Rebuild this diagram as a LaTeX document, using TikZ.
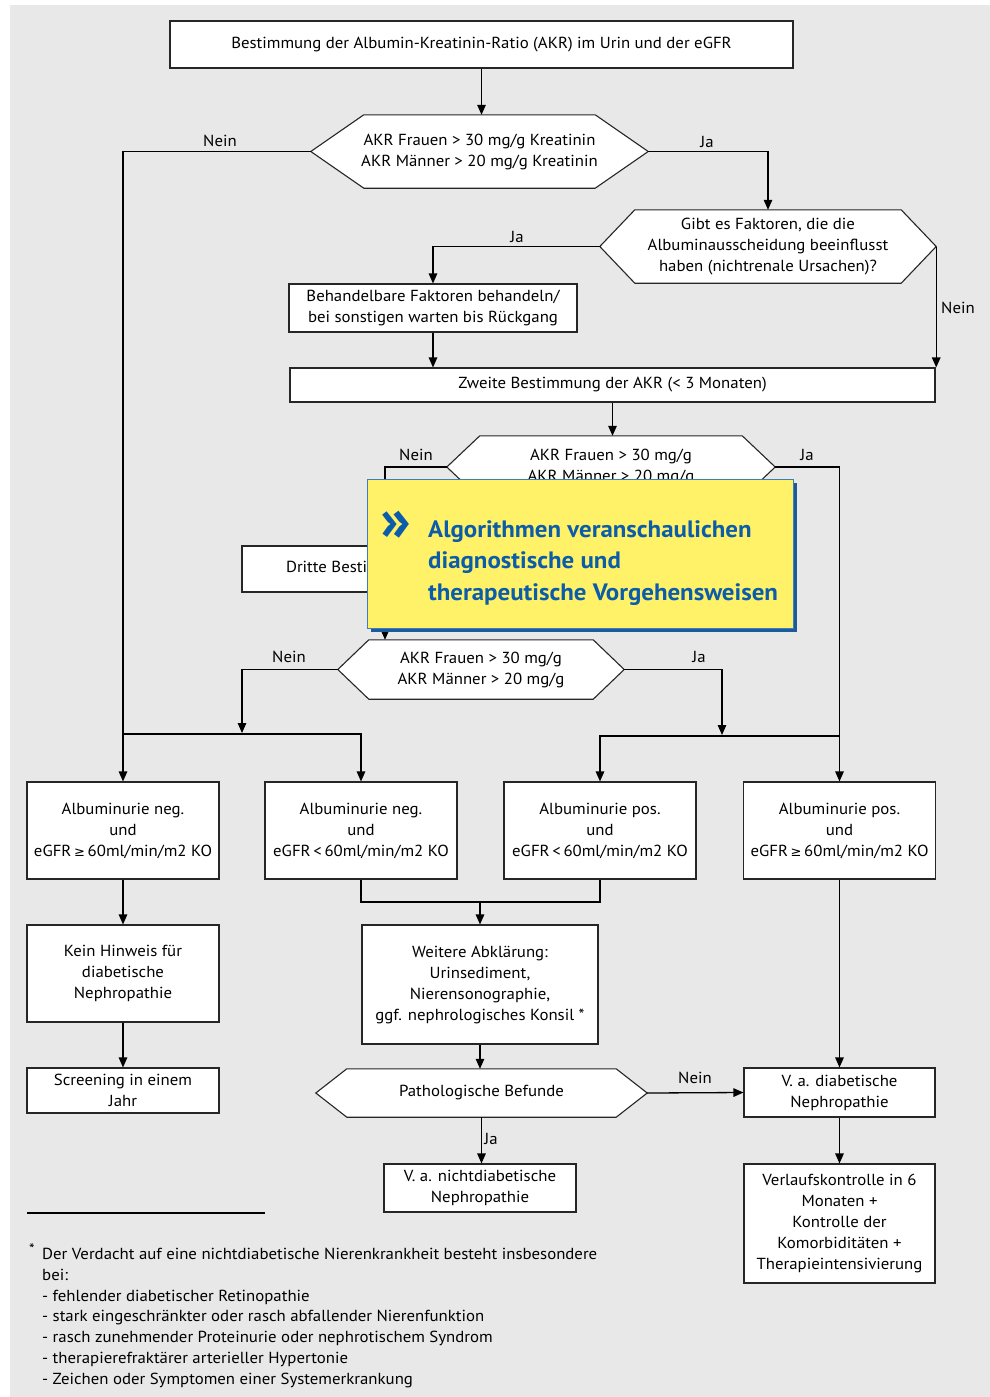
\documentclass[tikz,border=0pt]{standalone}
\usepackage{fontspec}
\setmainfont[FakeStretch=1.05]{PT Sans}
\newfontfamily\symfont{DejaVu Sans}
\usetikzlibrary{arrows.meta}
\pgfdeclarelayer{back}
\pgfdeclarelayer{hexlayer}
\pgfsetlayers{back,hexlayer,main}
\definecolor{bggray}{HTML}{E8E8E8}
\definecolor{ylw}{HTML}{FFF168}
\definecolor{blu}{HTML}{0B5CA9}
\definecolor{shadowblu}{HTML}{1C5A9C}
\definecolor{bordblu}{HTML}{3C7FC0}
\newcommand{\fs}{\fontsize{16}{21}\selectfont}
\newcommand{\gesym}{{\symfont\fontsize{13}{13}\selectfont ≥}}
\newcommand{\hexdraw}[2]{\begin{pgfonlayer}{hexlayer}\draw[hexfill] (#1.west) -- ([xshift=#2]#1.north west) -- ([xshift=-#2]#1.north east) -- (#1.east) -- ([xshift=-#2]#1.south east) -- ([xshift=#2]#1.south west) -- cycle;\end{pgfonlayer}}
\tikzset{
 bx/.style={draw=black!85,fill=white,line width=1.1pt,inner sep=0pt,align=center,font=\fs},
 hx/.style={inner sep=0pt,align=center,font=\fs},
 hexfill/.style={draw=black!85,fill=white,line width=1.1pt,line join=miter},
 conn/.style={line width=1.3pt},
 arr/.style={conn,-{Triangle[length=10pt,width=8.5pt]}},
 lbl/.style={font=\fs,inner sep=0pt},
 fn/.style={font=\fs,inner sep=0pt,anchor=base west},
 yt/.style={font=\bfseries\fontsize{23.7}{31.5}\selectfont,text=blu,inner sep=0pt,anchor=base west},
}
\begin{document}
\begin{tikzpicture}[x=1pt,y=-1pt]
\useasboundingbox (0,0) rectangle (990,1397);
\begin{pgfonlayer}{back}
\fill[white] (0,0) rectangle (990,1397);
\fill[bggray] (10,5) rectangle (990,1397);
\end{pgfonlayer}

% boxes
\node[bx,minimum width=623,minimum height=47] (top) at (481.5,44.5) {Bestimmung der Albumin-Kreatinin-Ratio (AKR) im Urin und der eGFR};
\node[hx,minimum width=337,minimum height=73] (h1) at (479.5,151.5) {AKR Frauen > 30 mg/g Kreatinin\\AKR Männer > 20 mg/g Kreatinin};
\hexdraw{h1}{53}
\node[hx,minimum width=336,minimum height=73] (h2) at (768,246.5) {Gibt es Faktoren, die die\\Albuminausscheidung beeinflusst\\haben (nichtrenale Ursachen)?};
\hexdraw{h2}{35}
\node[bx,minimum width=288,minimum height=48] (beh) at (433,308) {Behandelbare Faktoren behandeln/\\bei sonstigen warten bis Rückgang};
\node[bx,minimum width=645,minimum height=34] (zw) at (612.5,385) {Zweite Bestimmung der AKR (< 3 Monaten)};
\node[hx,minimum width=328,minimum height=62] (h3) at (611,467) {AKR Frauen > 30 mg/g\\AKR Männer > 20 mg/g};
\hexdraw{h3}{33}
\node[bx,minimum width=286,minimum height=46] (dr) at (385,569) {Dritte Bestimmung der AKR};
\node[hx,minimum width=286,minimum height=59] (h4) at (481,669.5) {AKR Frauen > 30 mg/g\\AKR Männer > 20 mg/g};
\hexdraw{h4}{31}
\node[bx,minimum width=192,minimum height=97] (b1) at (123,830.5) {Albuminurie neg.\\und\\eGFR\,\gesym\,60ml/min/m2 KO};
\node[bx,minimum width=192,minimum height=97] (b2) at (361,830.5) {Albuminurie neg.\\und\\eGFR\,<\,60ml/min/m2 KO};
\node[bx,minimum width=192,minimum height=97] (b3) at (600,830.5) {Albuminurie pos.\\und\\eGFR\,<\,60ml/min/m2 KO};
\node[bx,minimum width=192,minimum height=97] (b4) at (839.5,830.5) {Albuminurie pos.\\und\\eGFR\,\gesym\,60ml/min/m2 KO};
\node[bx,minimum width=192,minimum height=97] (kein) at (123,973.5) {Kein Hinweis für\\diabetische\\Nephropathie};
\node[bx,minimum width=192,minimum height=45] (scr) at (123,1090.5) {Screening in einem\\Jahr};
\node[bx,minimum width=236,minimum height=119] (weit) at (480,984.5) {Weitere Abklärung:\\Urinsediment,\\Nierensonographie,\\ggf. nephrologisches Konsil *};
\node[hx,minimum width=331,minimum height=48] (h5) at (481.5,1093) {Pathologische Befunde};
\hexdraw{h5}{31}
\node[bx,minimum width=191,minimum height=49] (vad) at (839.5,1092.5) {V. a. diabetische\\Nephropathie};
\node[bx,minimum width=192,minimum height=48] (vand) at (480,1188) {V. a. nichtdiabetische\\Nephropathie};
\node[bx,minimum width=191,minimum height=119] (verl) at (839.5,1223.5) {Verlaufskontrolle in 6\\Monaten +\\Kontrolle der\\Komorbiditäten +\\Therapieintensivierung};

% junction coordinates
\coordinate (nl) at (242,733);
\coordinate (nr) at (722,735);
\coordinate (jL) at (123,734);
\coordinate (jR) at (839.5,736);
\coordinate (mid) at (480,902);

% connectors
\draw[arr] (top.south) -- (top.south |- h1.north);
\draw[arr] (h1.west) -| (b1.north);
\draw[arr] (h1.east) -| (h2.north);
\draw[arr] (h2.west) -| (beh.north);
\draw[arr] (h2.east) -- (h2.east |- zw.north);
\draw[arr] (beh.south) -- (beh.south |- zw.north);
\draw[arr] (zw.south) -- (zw.south |- h3.north);
\draw[arr] (h3.west) -| (dr.north);
\draw[arr] (h3.east) -| (b4.north);
\draw[arr] (dr.south) -- (dr.south |- h4.north);
\draw[arr] (h4.west) -| (nl);
\draw[arr] (h4.east) -| (nr);
\draw[arr] (jL) -| (b2.north);
\draw[arr] (jR) -| (b3.north);
\draw[arr] (b1.south) -- (kein.north);
\draw[arr] (kein.south) -- (scr.north);
\draw[conn] (b2.south) |- (mid) -| (b3.south);
\draw[arr] (mid) -- (weit.north);
\draw[arr] (weit.south) -- (weit.south |- h5.north);
\draw[arr] (b4.south) -- (vad.north);
\draw[arr] (h5.east) -- (vad.west);
\draw[arr] (h5.south) -- (h5.south |- vand.north);
\draw[arr] (vad.south) -- (verl.north);

% labels
\node[lbl] (l1) at (220,141) {Nein};
\node[lbl] (l2) at (707,142) {Ja};
\node[lbl] (l3) at (517,237) {Ja};
\node[lbl] (l4) at (958,308) {Nein};
\node[lbl] (l5) at (416,455) {Nein};
\node[lbl] (l6) at (807,455) {Ja};
\node[lbl] (l7) at (289,657) {Nein};
\node[lbl] (l8) at (699,657) {Ja};
\node[lbl] (l9) at (695,1078) {Nein};
\node[lbl] (l10) at (491,1139) {Ja};

% footnote
\draw[line width=2pt] (27,1213) -- (265,1213);
\node[font=\fontsize{15}{15}\selectfont,inner sep=0pt] (star) at (32,1249) {*};
\node[fn] (f1) at (42,1259.5) {Der Verdacht auf eine nichtdiabetische Nierenkrankheit besteht insbesondere};
\node[fn] (f2) at (42,1280.3) {bei:};
\node[fn] (f3) at (42,1301.1) {- fehlender diabetischer Retinopathie};
\node[fn] (f4) at (42,1321.9) {- stark eingeschränkter oder rasch abfallender Nierenfunktion};
\node[fn] (f5) at (42,1342.7) {- rasch zunehmender Proteinurie oder nephrotischem Syndrom};
\node[fn] (f6) at (42,1363.5) {- therapierefraktärer arterieller Hypertonie};
\node[fn] (f7) at (42,1384.3) {- Zeichen oder Symptomen einer Systemerkrankung};

% yellow callout
\fill[shadowblu] (371,483) rectangle (797,632);
\draw[bordblu,line width=0.8pt,fill=ylw] (367,479) rectangle (793,628);
\node[font=\bfseries\fontsize{60}{60}\selectfont,text=blu,inner sep=0pt] (chev) at (396,526) {»};
\node[yt] (y1) at (428,537) {Algorithmen veranschaulichen};
\node[yt] (y2) at (428,568.5) {diagnostische und};
\node[yt] (y3) at (428,600) {therapeutische Vorgehensweisen};
\end{tikzpicture}
\end{document}
